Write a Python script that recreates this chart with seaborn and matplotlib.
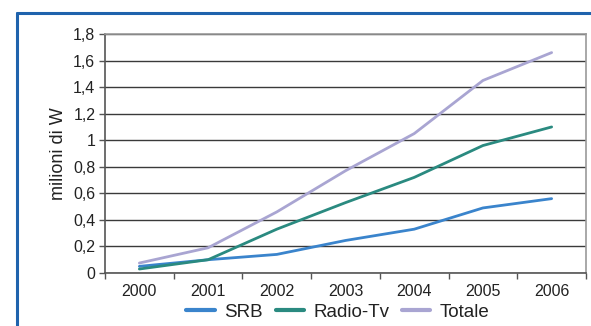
import matplotlib
matplotlib.use("Agg")
import matplotlib.pyplot as plt
import seaborn as sns
import pandas as pd
from matplotlib.lines import Line2D
from matplotlib.ticker import FixedLocator

years = ["2000", "2001", "2002", "2003", "2004", "2005", "2006"]
srb = [0.05, 0.10, 0.14, 0.245, 0.33, 0.49, 0.56]
radio_tv = [0.03, 0.10, 0.33, 0.53, 0.72, 0.96, 1.10]
totale = [0.075, 0.19, 0.46, 0.77, 1.05, 1.45, 1.66]
series_names = ["SRB", "Radio-Tv", "Totale"]
colors = ["#3a84cc", "#2a8a80", "#a9a5d2"]
y_ticks = [0, 0.2, 0.4, 0.6, 0.8, 1.0, 1.2, 1.4, 1.6, 1.8]
y_tick_labels = ["0", "0,2", "0,4", "0,6", "0,8", "1", "1,2", "1,4", "1,6", "1,8"]

rows = []
for name, vals in zip(series_names, [srb, radio_tv, totale]):
    for i, v in enumerate(vals):
        rows.append({"pos": i, "anno": years[i], "valore": v, "serie": name})
df = pd.DataFrame(rows)

sns.set_theme(style="white")
plt.rcParams["font.family"] = ["Liberation Sans", "DejaVu Sans"]

fig = plt.figure(figsize=(5.91, 3.26), dpi=100)
ax = fig.add_axes([105 / 591, 1 - 273 / 326, (586 - 105) / 591, (273 - 34) / 326])

sns.lineplot(data=df, x="pos", y="valore", hue="serie", hue_order=series_names,
             palette=colors, linewidth=2.0, ax=ax, legend=False)

ax.set_xlim(-0.5, 6.5)
ax.set_ylim(0, 1.8)
ax.set_xticks(range(len(years)))
ax.set_xticklabels(years)
ax.xaxis.set_minor_locator(FixedLocator([i - 0.5 for i in range(len(years) + 1)]))
ax.set_yticks(y_ticks)
ax.set_yticklabels(y_tick_labels)
ax.set_xlabel("")
ax.set_ylabel("milioni di W", fontsize=13, color="#222222", labelpad=4)

ax.tick_params(axis="x", which="major", length=0, labelsize=11.5, labelcolor="#222222", pad=8)
ax.tick_params(axis="x", which="minor", length=4, width=1, color="#555555", direction="out", bottom=True)
ax.tick_params(axis="y", length=4, width=1, color="#555555", direction="out", left=True,
               labelsize=11.5, labelcolor="#222222", pad=3)

ax.yaxis.grid(True, color="#3a3a3a", linewidth=1)
ax.set_axisbelow(True)
for side in ["left", "bottom"]:
    ax.spines[side].set_color("#555555")
    ax.spines[side].set_linewidth(1.2)
for side in ["top", "right"]:
    ax.spines[side].set_color("#9a9a9a")
    ax.spines[side].set_linewidth(1.2)

handles = [Line2D([0], [0], color=c, linewidth=3) for c in colors]
fig.legend(handles, series_names, loc="center", bbox_to_anchor=(338 / 591, 1 - 312 / 326),
           ncol=3, frameon=False, fontsize=13.5, handlelength=1.5, columnspacing=0.7,
           handletextpad=0.5, labelcolor="#222222")

# blue frame around the panel
frame_color = "#1f63ad"
fig.add_artist(Line2D([17 / 591, 1.0], [1 - 13 / 326, 1 - 13 / 326], color=frame_color,
                      linewidth=2.2, transform=fig.transFigure))
fig.add_artist(Line2D([17 / 591, 17 / 591], [0.0, 1 - 13 / 326], color=frame_color,
                      linewidth=2.2, transform=fig.transFigure))

fig.savefig("out.png", dpi=100)
